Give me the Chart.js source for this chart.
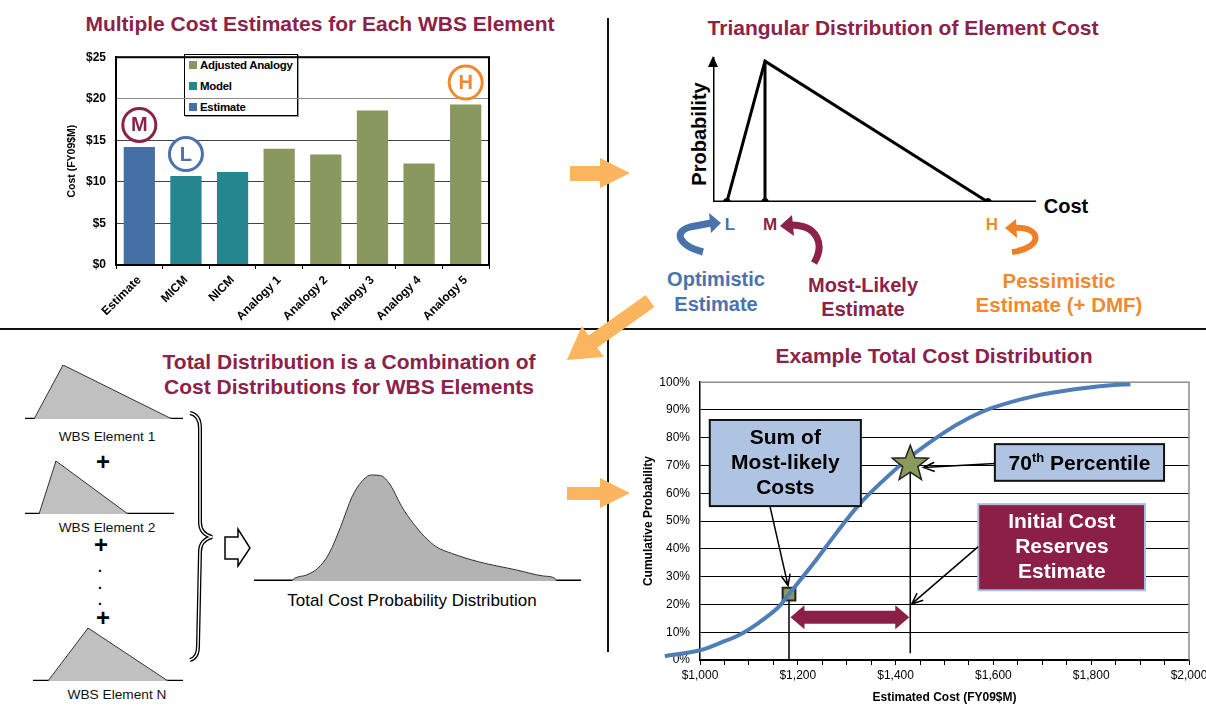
<!DOCTYPE html>
<html>
<head>
<meta charset="utf-8">
<title>Cost estimate distributions</title>
<script src="https://cdn.jsdelivr.net/npm/chart.js@4.4.1/dist/chart.umd.min.js"></script>
<style>
  body { margin:0; width:1206px; height:708px; overflow:hidden; background:#fff; position:relative; font-family:"Liberation Sans", Arial, sans-serif; }
  canvas { position:absolute; }
  svg { position:absolute; left:0; top:0; }
  .t { position:absolute; transform:translate(-50%,-50%); white-space:nowrap; font-weight:bold; line-height:1; }
  .ttl { color:#8c2248; font-size:21px; }
  .wbs { font-weight:normal; font-size:13.7px; color:#111; }
  .plus { font-size:24px; }
  #legend { position:absolute; left:184px; top:54px; width:112px; height:60px; border:1px solid #000; box-shadow:1px 1px 0 #999; background:#fff; font-weight:bold; font-size:11.5px; }
  .li { position:absolute; left:4px; display:flex; align-items:center; height:14px; white-space:nowrap; letter-spacing:-0.3px; }
  .sw { width:8px; height:8px; margin-right:3px; flex:none; }
</style>
</head>
<body>

<!-- dividers, orange flow arrows, brace, curved arrows -->
<svg width="1206" height="708">
  <line x1="0" y1="329" x2="1206" y2="329" stroke="#111" stroke-width="2"/>
  <line x1="608" y1="18" x2="608" y2="652" stroke="#111" stroke-width="2"/>
  <polygon points="570,166 600,166 600,158 630,173 600,188 600,181 570,181" fill="#fbb55e"/>
  <polygon points="567,487 600,487 600,478 630,493 600,508 600,500 567,500" fill="#fbb55e"/>
  <g transform="translate(650,301) rotate(144.6)">
    <polygon points="0,-7.5 70,-7.5 70,-19 102,0 70,19 70,7.5 0,7.5" fill="#fbb55e"/>
  </g>
  <path d="M190 413 Q200 415 200 428 L200 522 Q200 534 212 537 Q200 540 200 552 L198 646 Q198 658 190 660" fill="none" stroke="#000" stroke-width="4"/>
  <path d="M190 413 Q200 415 200 428 L200 522 Q200 534 212 537 Q200 540 200 552 L198 646 Q198 658 190 660" fill="none" stroke="#fff" stroke-width="1.4"/>
  <polygon points="225,537 238,537 238,529 250,548 238,566 238,559 225,559" fill="#fff" stroke="#000" stroke-width="1.5"/>
  <path d="M703 252 C 680 246, 672 232, 690 227 L 711 223" fill="none" stroke="#4a72ad" stroke-width="7"/>
  <polygon points="709,213 721,223 711,233" fill="#4a72ad"/>
  <path d="M814 263 C 825 245, 818 225, 791 225" fill="none" stroke="#8c2248" stroke-width="7"/>
  <polygon points="792,215 780,226 794,236" fill="#8c2248"/>
  <path d="M1014 228 C 1042 226, 1044 248, 1012 252" fill="none" stroke="#f07f2a" stroke-width="6"/>
  <polygon points="1016,219 1005,228 1017,238" fill="#f07f2a"/>
</svg>

<div class="t ttl" style="left:320px;top:23px">Multiple Cost Estimates for Each WBS Element</div>
<div class="t ttl" style="left:903px;top:27px">Triangular Distribution of Element Cost</div>
<div class="t ttl" style="left:349px;top:361px">Total Distribution is a Combination of</div>
<div class="t ttl" style="left:349px;top:386px">Cost Distributions for WBS Elements</div>
<div class="t ttl" style="left:934px;top:355px">Example Total Cost Distribution</div>

<div class="t" style="left:699px;top:134px;font-size:20px;transform:translate(-50%,-50%) rotate(-90deg)">Probability</div>
<div class="t" style="left:1066px;top:206px;font-size:20px">Cost</div>
<div class="t" style="left:730px;top:224px;font-size:17px;color:#4a72ad">L</div>
<div class="t" style="left:770px;top:224px;font-size:17px;color:#8c2248">M</div>
<div class="t" style="left:992px;top:224px;font-size:17px;color:#f08a30">H</div>
<div class="t" style="left:716px;top:279px;font-size:20px;color:#4a72ad">Optimistic</div>
<div class="t" style="left:716px;top:304px;font-size:20px;color:#4a72ad">Estimate</div>
<div class="t" style="left:863px;top:285px;font-size:20px;color:#8c2248">Most-Likely</div>
<div class="t" style="left:863px;top:309px;font-size:20px;color:#8c2248">Estimate</div>
<div class="t" style="left:1059px;top:281px;font-size:20.5px;color:#f08a30">Pessimistic</div>
<div class="t" style="left:1059px;top:305px;font-size:20.5px;color:#f08a30">Estimate (+ DMF)</div>

<div class="t wbs" style="left:107px;top:437px">WBS Element 1</div>
<div class="t plus" style="left:103px;top:462px">+</div>
<div class="t wbs" style="left:107px;top:528px">WBS Element 2</div>
<div class="t plus" style="left:101px;top:545px">+</div>
<div class="t" style="left:100px;top:567px;font-size:14px">.</div>
<div class="t" style="left:100px;top:584px;font-size:14px">.</div>
<div class="t" style="left:100px;top:600px;font-size:14px">.</div>
<div class="t plus" style="left:103px;top:618px">+</div>
<div class="t wbs" style="left:117px;top:695px">WBS Element N</div>
<div class="t" style="left:412px;top:600px;font-size:17px;font-weight:normal">Total Cost Probability Distribution</div>

<div id="legend"></div>

<script>
Chart.defaults.font.family = '"Liberation Sans", Arial, sans-serif';
Chart.defaults.color = '#000';
Chart.defaults.animation = false;
Chart.defaults.responsive = false;
Chart.defaults.plugins.legend.display = false;
Chart.defaults.plugins.tooltip.enabled = false;

// ---- 1. cost estimates per WBS element (FY09 $M)
const barLabels = ['Estimate', 'MICM', 'NICM', 'Analogy 1', 'Analogy 2', 'Analogy 3', 'Analogy 4', 'Analogy 5'];
const barValues = [14.2, 10.7, 11.2, 14.0, 13.3, 18.6, 12.2, 19.3];
const barGroups = ['Estimate', 'Model', 'Model', 'Adjusted Analogy', 'Adjusted Analogy', 'Adjusted Analogy', 'Adjusted Analogy', 'Adjusted Analogy'];
const groupColors = { 'Estimate': '#4570a5', 'Model': '#26868f', 'Adjusted Analogy': '#88985f' };
const legendOrder = ['Adjusted Analogy', 'Model', 'Estimate'];
const circleMarks = [
    { bar: 0, letter: 'M', color: '#8c2248' },
    { bar: 1, letter: 'L', color: '#4a72ad' },
    { bar: 7, letter: 'H', color: '#f08a30' }
];

// ---- 2. triangular distribution of one element (cost on a 0-100 scale)
const triLow = 4.3, triMode = 16.1, triHigh = 85.1;

// ---- 3. WBS element triangles [low, mode, high] and the combined distribution
const wbsElements = [
    { name: 'WBS Element 1', tri: [5.7, 24.1, 93.0] },
    { name: 'WBS Element 2', tri: [9.4, 20.8, 69.1] },
    { name: 'WBS Element N', tri: [10.0, 36.7, 90.0] }
];
const totalX = [11.5, 12.4, 16.0, 19.5, 23.0, 26.5, 30.0, 32.9, 35.9, 38.8, 41.7, 45.2, 48.7, 52.2, 55.7, 60.4, 68.6, 80.3, 88.5, 92.0, 92.5];
const totalY = [0, 2.7, 6, 12.7, 27.7, 54.3, 84.3, 99.3, 106, 105.3, 96, 74.3, 57.7, 44.3, 34.3, 27.7, 19.3, 11, 5, 2.7, 0];

// ---- 4. cumulative total cost distribution
const costX = [928, 1000, 1045, 1083, 1120, 1158, 1180, 1233, 1278, 1323, 1368, 1429, 1496, 1549, 1602, 1684, 1759, 1835, 1880];
const cumPct = [1.4, 3.5, 6.4, 9.3, 13.4, 18.6, 23.3, 35, 45.5, 55.5, 63.5, 73, 81.5, 87, 91, 95, 97.3, 98.8, 99.3];
const sumMostLikely = { cost: 1182, pct: 23.7 };
const pct70 = { cost: 1430, pct: 70.5 };

function makeCanvas(left, top, w, h) {
    const c = document.createElement('canvas');
    c.width = w; c.height = h;
    c.style.left = left + 'px'; c.style.top = top + 'px';
    document.body.appendChild(c);
    return c;
}

// legend (inside the bar plot)
const legend = document.getElementById('legend');
legendOrder.forEach((g, i) => {
    const d = document.createElement('div');
    d.className = 'li';
    d.style.top = (3 + i * 21) + 'px';
    d.innerHTML = '<span class="sw" style="background:' + groupColors[g] + '"></span>' + g;
    legend.appendChild(d);
});

// ===== bar chart
const framePlugin = {
    id: 'frame',
    afterDraw(chart) {
        const { ctx, chartArea: a } = chart;
        ctx.save();
        ctx.strokeStyle = '#000'; ctx.lineWidth = 2;
        ctx.strokeRect(a.left, a.top, a.right - a.left, a.bottom - a.top);
        ctx.restore();
    }
};
const circlePlugin = {
    id: 'circles',
    afterDatasetsDraw(chart) {
        const { ctx } = chart;
        const bars = chart.getDatasetMeta(0).data;
        ctx.save();
        circleMarks.forEach(m => {
            const b = bars[m.bar];
            const cy = b.y - 22;
            ctx.beginPath();
            ctx.arc(b.x, cy, 16.5, 0, Math.PI * 2);
            ctx.fillStyle = '#fff'; ctx.fill();
            ctx.lineWidth = 3; ctx.strokeStyle = m.color; ctx.stroke();
            ctx.fillStyle = m.color;
            ctx.font = 'bold 20px "Liberation Sans", Arial';
            ctx.textAlign = 'center'; ctx.textBaseline = 'middle';
            ctx.fillText(m.letter, b.x, cy + 1);
        });
        ctx.restore();
    }
};

new Chart(makeCanvas(60, 40, 431, 285), {
    type: 'bar',
    data: {
        labels: barLabels,
        datasets: [{
            data: barValues,
            backgroundColor: barGroups.map(g => groupColors[g]),
            barPercentage: 0.67,
            categoryPercentage: 1
        }]
    },
    options: {
        layout: { padding: { top: 7, right: 2, left: 0, bottom: 0 } },
        scales: {
            x: {
                grid: { offset: true, drawOnChartArea: false, tickLength: 4, color: '#000' },
                border: { color: '#000', width: 2 },
                ticks: { minRotation: 45, maxRotation: 45, font: { size: 12, weight: 'bold' }, padding: 4 },
                afterFit: s => { s.height = 60; }
            },
            y: {
                min: 0, max: 25,
                ticks: { stepSize: 5, callback: v => '$' + v, font: { size: 12, weight: 'bold' }, padding: 10 },
                grid: { color: ctx => ctx.tick && ctx.tick.value === 20 ? '#8a8a8a' : '#444', drawTicks: false },
                border: { color: '#000', width: 2 },
                title: { display: true, text: 'Cost (FY09$M)', font: { size: 10.5, weight: 'bold' }, padding: { top: 6, bottom: 2 } },
                afterFit: s => { s.width = 56; }
            }
        }
    },
    plugins: [framePlugin, circlePlugin]
});

// ===== triangular distribution
const axisArrow = {
    id: 'axisArrow',
    afterDatasetsDraw(chart) {
        const { ctx, scales: { x, y } } = chart;
        const px = x.getPixelForValue(0), py = y.getPixelForValue(y.max);
        ctx.save();
        ctx.fillStyle = '#000';
        ctx.beginPath();
        ctx.moveTo(px, py - 1); ctx.lineTo(px - 5, py + 10); ctx.lineTo(px + 5, py + 10);
        ctx.closePath(); ctx.fill();
        ctx.restore();
    }
};
const lineSet = (pts, w) => ({ data: pts, showLine: true, borderColor: '#000', borderWidth: w, pointRadius: 0 });
new Chart(makeCanvas(707, 51, 335, 157), {
    type: 'scatter',
    data: {
        datasets: [
            lineSet([{ x: 0, y: 0 }, { x: 100, y: 0 }], 3),
            lineSet([{ x: 0, y: 0 }, { x: 0, y: 1.03 }], 3),
            lineSet([{ x: triLow, y: 0 }, { x: triMode, y: 1 }, { x: triHigh, y: 0 }], 3),
            lineSet([{ x: triMode, y: 0 }, { x: triMode, y: 1 }], 3),
            { data: [{ x: triLow, y: 0 }, { x: triMode, y: 0 }, { x: triHigh, y: 0 }], pointRadius: 3.5, backgroundColor: '#000', borderColor: '#000' }
        ]
    },
    options: {
        layout: { padding: 6 },
        scales: { x: { display: false, min: 0, max: 100 }, y: { display: false, min: 0, max: 1.03 } }
    },
    plugins: [axisArrow]
});

// ===== WBS element triangles
const wbsBoxes = [
    { left: 25, top: 365, w: 158, h: 54 },
    { left: 25, top: 461, w: 149, h: 53 },
    { left: 33, top: 628, w: 150, h: 53 }
];
wbsElements.forEach((el, i) => {
    const b = wbsBoxes[i];
    const t = el.tri;
    new Chart(makeCanvas(b.left - 3, b.top - 3, b.w + 6, b.h + 6), {
        type: 'scatter',
        data: {
            datasets: [
                { data: [{ x: t[0], y: 0 }, { x: t[1], y: 1 }, { x: t[2], y: 0 }], showLine: true, fill: 'origin',
                  backgroundColor: '#c0c0c0', borderColor: '#333', borderWidth: 1, pointRadius: 0 },
                lineSet([{ x: t[1], y: 0 }, { x: t[1], y: 1 }], 1.5),
                lineSet([{ x: 0, y: 0 }, { x: 100, y: 0 }], 2.5)
            ]
        },
        options: {
            layout: { padding: 3 },
            scales: { x: { display: false, min: 0, max: 100 }, y: { display: false, min: 0, max: 1 } }
        }
    });
});

// ===== combined distribution
new Chart(makeCanvas(251, 468, 333, 116), {
    type: 'scatter',
    data: {
        datasets: [
            { data: totalX.map((x, i) => ({ x: x, y: totalY[i] })), showLine: true, fill: 'origin', tension: 0.4,
              cubicInterpolationMode: 'monotone', backgroundColor: '#b3b3b3', borderColor: '#333', borderWidth: 1, pointRadius: 0 },
            lineSet([{ x: 0, y: 0 }, { x: 100, y: 0 }], 3)
        ]
    },
    options: {
        layout: { padding: 3 },
        scales: { x: { display: false, min: 0, max: 100 }, y: { display: false, min: 0, max: 110 } }
    }
});

// ===== cumulative S-curve with callouts
function calloutArrow(ctx, x1, y1, x2, y2) {
    const a = Math.atan2(y2 - y1, x2 - x1), L = 12;
    ctx.beginPath();
    ctx.moveTo(x1, y1); ctx.lineTo(x2, y2);
    ctx.moveTo(x2 - L * Math.cos(a - 0.4), y2 - L * Math.sin(a - 0.4));
    ctx.lineTo(x2, y2);
    ctx.lineTo(x2 - L * Math.cos(a + 0.4), y2 - L * Math.sin(a + 0.4));
    ctx.stroke();
}
function box(ctx, x1, y1, x2, y2, fill, stroke) {
    ctx.fillStyle = fill;
    ctx.fillRect(x1, y1, x2 - x1, y2 - y1);
    ctx.strokeStyle = stroke; ctx.lineWidth = 2;
    ctx.strokeRect(x1, y1, x2 - x1, y2 - y1);
}
function boxText(ctx, lines, cx, cy, color) {
    ctx.fillStyle = color;
    ctx.font = 'bold 21px "Liberation Sans", Arial';
    ctx.textAlign = 'center'; ctx.textBaseline = 'middle';
    const lh = 25;
    lines.forEach((s, i) => ctx.fillText(s, cx, cy + (i - (lines.length - 1) / 2) * lh));
}
const sCurvePlugin = {
    id: 'sCurve',
    beforeDatasetsDraw(chart) {
        const { ctx, chartArea: a, scales: { x, y } } = chart;
        ctx.save();
        ctx.strokeStyle = '#8c8c8c'; ctx.lineWidth = 1.5;
        ctx.beginPath();
        ctx.moveTo(a.left, a.top); ctx.lineTo(a.right, a.top); ctx.lineTo(a.right, a.bottom);
        ctx.stroke();
        ctx.strokeStyle = '#000'; ctx.lineWidth = 1.5;
        ctx.beginPath();
        ctx.moveTo(x.getPixelForValue(sumMostLikely.cost), y.getPixelForValue(sumMostLikely.pct));
        ctx.lineTo(x.getPixelForValue(sumMostLikely.cost), y.getPixelForValue(0));
        ctx.moveTo(x.getPixelForValue(pct70.cost), y.getPixelForValue(pct70.pct));
        ctx.lineTo(x.getPixelForValue(pct70.cost), y.getPixelForValue(2.4));
        ctx.stroke();
        ctx.restore();
    },
    afterDatasetsDraw(chart) {
        const { ctx, scales: { x, y } } = chart;
        const X = v => x.getPixelForValue(v), Y = v => y.getPixelForValue(v);
        ctx.save();

        // reserve span arrow
        const xa = X(sumMostLikely.cost + 3), xb = X(pct70.cost - 2), yc = Y(15.4);
        const hh = 12, sh = 6.5, hl = 14;
        ctx.fillStyle = '#8b1f45';
        ctx.beginPath();
        ctx.moveTo(xa, yc); ctx.lineTo(xa + hl, yc - hh); ctx.lineTo(xa + hl, yc - sh); ctx.lineTo(xb - hl, yc - sh);
        ctx.lineTo(xb - hl, yc - hh); ctx.lineTo(xb, yc); ctx.lineTo(xb - hl, yc + hh); ctx.lineTo(xb - hl, yc + sh);
        ctx.lineTo(xa + hl, yc + sh); ctx.lineTo(xa + hl, yc + hh); ctx.closePath(); ctx.fill();

        // 70th percentile star
        const sx = X(pct70.cost), sy = Y(pct70.pct);
        ctx.beginPath();
        for (let i = 0; i < 10; i++) {
            const r = i % 2 ? 8 : 19, ang = -Math.PI / 2 + i * Math.PI / 5;
            ctx.lineTo(sx + r * Math.cos(ang), sy + r * Math.sin(ang));
        }
        ctx.closePath();
        ctx.fillStyle = '#8a9a5b'; ctx.fill();
        ctx.strokeStyle = '#222'; ctx.lineWidth = 1.5; ctx.stroke();

        // callout boxes
        box(ctx, X(1020), Y(86.4), X(1329), Y(55.4), '#afc3e2', '#111');
        boxText(ctx, ['Sum of', 'Most-likely', 'Costs'], X(1174.5), Y(70.9), '#000');

        box(ctx, X(1603), Y(77.7), X(1949), Y(64.5), '#afc3e2', '#111');
        ctx.fillStyle = '#000'; ctx.textBaseline = 'alphabetic'; ctx.textAlign = 'left';
        const big = 'bold 21px "Liberation Sans", Arial', small = 'bold 13px "Liberation Sans", Arial';
        ctx.font = big; const w1 = ctx.measureText('70').width, w3 = ctx.measureText(' Percentile').width;
        ctx.font = small; const w2 = ctx.measureText('th').width;
        let tx = X(1776) - (w1 + w2 + w3) / 2; const ty = Y(71.1) + 8;
        ctx.font = big; ctx.fillText('70', tx, ty); tx += w1;
        ctx.font = small; ctx.fillText('th', tx, ty - 8); tx += w2;
        ctx.font = big; ctx.fillText(' Percentile', tx, ty);

        box(ctx, X(1569), Y(56.1), X(1910), Y(25.1), '#8b1f45', '#a9bde0');
        boxText(ctx, ['Initial Cost', 'Reserves', 'Estimate'], X(1740), Y(40.6), '#fff');

        // callout arrows
        ctx.strokeStyle = '#000'; ctx.lineWidth = 1.5;
        calloutArrow(ctx, X(1143), Y(55.4), X(1180), Y(26.8));
        calloutArrow(ctx, X(1603), Y(70.7), X(1457), Y(69.3));
        calloutArrow(ctx, X(1569), Y(40.8), X(1433), Y(20.2));
        ctx.restore();
    }
};

new Chart(makeCanvas(636, 365, 594, 343), {
    type: 'scatter',
    data: {
        datasets: [
            { data: costX.map((c, i) => ({ x: c, y: cumPct[i] })), showLine: true, clip: false, tension: 0.35,
              borderColor: '#4f7db8', borderWidth: 4, pointRadius: 0 },
            { data: [{ x: sumMostLikely.cost, y: sumMostLikely.pct }], pointStyle: 'rect', pointRadius: 9,
              backgroundColor: '#8a9a5b', borderColor: '#222', borderWidth: 2 }
        ]
    },
    options: {
        layout: { padding: { top: 8, right: 41, left: 0, bottom: 0 } },
        scales: {
            x: {
                min: 1000, max: 2000,
                ticks: { stepSize: 50, autoSkip: false, maxRotation: 0, font: { size: 12 }, padding: 3,
                         callback: v => v % 200 === 0 ? '$' + v.toLocaleString('en-US') : '' },
                grid: { drawOnChartArea: false, tickLength: 5, color: '#000' },
                border: { color: '#000', width: 1.5 },
                title: { display: true, text: 'Estimated Cost (FY09$M)', font: { size: 12, weight: 'bold' }, padding: { top: 4, bottom: 3 } },
                afterFit: s => { s.height = 48; }
            },
            y: {
                min: 0, max: 100,
                ticks: { stepSize: 10, callback: v => v + '%', font: { size: 12 }, padding: 10 },
                grid: { color: '#000', lineWidth: 1, drawTicks: false },
                border: { color: '#000', width: 1.5 },
                title: { display: true, text: 'Cumulative Probability', font: { size: 12, weight: 'bold' }, padding: { top: 5, bottom: 0 } },
                afterFit: s => { s.width = 64; }
            }
        }
    },
    plugins: [sCurvePlugin]
});
</script>
</body>
</html>
